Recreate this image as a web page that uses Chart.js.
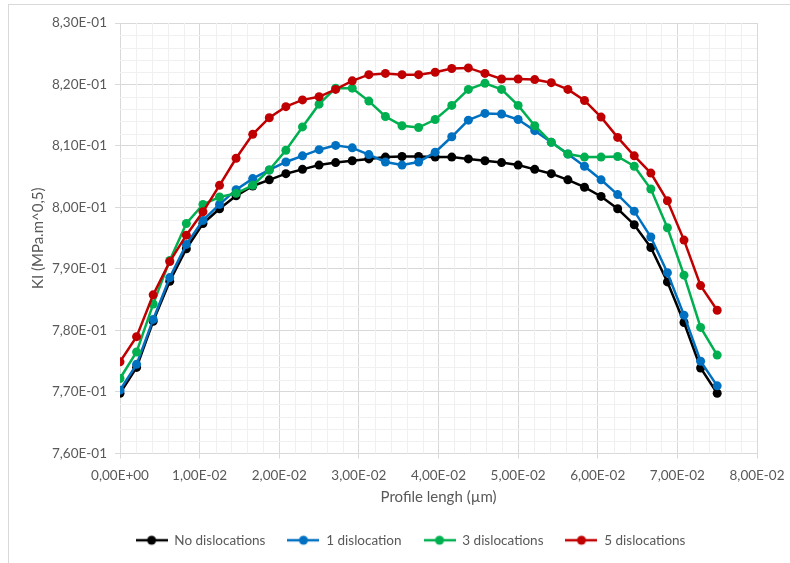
<!DOCTYPE html>
<html>
<head>
<meta charset="utf-8">
<script src="https://cdn.jsdelivr.net/npm/chart.js@4"></script>
<style>
  html, body { margin: 0; padding: 0; background: #fff; }
  #wrap { width: 790px; height: 563px; position: relative; }
</style>
</head>
<body>
<div id="wrap"><canvas id="myChart" width="790" height="563"></canvas></div>
<script>
// profile positions (same for every series)
const profileX = [0, 0.002083, 0.004167, 0.00625, 0.008333, 0.010417, 0.0125, 0.014583, 0.016667, 0.01875,
  0.020833, 0.022917, 0.025, 0.027083, 0.029167, 0.03125, 0.033333, 0.035417, 0.0375, 0.039583,
  0.041667, 0.04375, 0.045833, 0.047917, 0.05, 0.052083, 0.054167, 0.05625, 0.058333, 0.060417,
  0.0625, 0.064583, 0.066667, 0.06875, 0.070833, 0.072917, 0.075];

const seriesNames = ["No dislocations", "1 dislocation", "3 dislocations", "5 dislocations"];
const seriesColors = ["#000000", "#0070C0", "#00B050", "#C00000"];

const noDisl = [0.7698, 0.7740, 0.7815, 0.7880, 0.7933, 0.7974, 0.7998, 0.8019, 0.8035, 0.8045,
  0.8055, 0.8062, 0.8069, 0.8073, 0.8076, 0.8079, 0.8082, 0.8083, 0.8083, 0.8082,
  0.8082, 0.8079, 0.8076, 0.8073, 0.8069, 0.8062, 0.8055, 0.8045, 0.8033, 0.8018,
  0.7998, 0.7972, 0.7935, 0.7879, 0.7813, 0.7739, 0.7698];
const oneDisl = [0.7703, 0.7745, 0.7818, 0.7886, 0.7940, 0.7979, 0.8005, 0.8029, 0.8047, 0.8061,
  0.8074, 0.8084, 0.8094, 0.8101, 0.8097, 0.8086, 0.8074, 0.8069, 0.8074, 0.8090,
  0.8115, 0.8142, 0.8153, 0.8152, 0.8143, 0.8125, 0.8106, 0.8087, 0.8067, 0.8045,
  0.8021, 0.7994, 0.7952, 0.7894, 0.7825, 0.7750, 0.7710];
const threeDisl = [0.7722, 0.7765, 0.7843, 0.7914, 0.7974, 0.8005, 0.8017, 0.8023, 0.8036, 0.8061,
  0.8093, 0.8131, 0.8168, 0.8194, 0.8194, 0.8173, 0.8148, 0.8133, 0.8130, 0.8143,
  0.8166, 0.8192, 0.8202, 0.8192, 0.8166, 0.8133, 0.8106, 0.8087, 0.8082, 0.8082,
  0.8083, 0.8067, 0.8030, 0.7967, 0.7890, 0.7805, 0.7760];
const fiveDisl = [0.7749, 0.7790, 0.7858, 0.7912, 0.7955, 0.7993, 0.8036, 0.8080, 0.8119, 0.8146,
  0.8164, 0.8175, 0.8180, 0.8192, 0.8206, 0.8216, 0.8218, 0.8216, 0.8216, 0.8220,
  0.8226, 0.8227, 0.8218, 0.8209, 0.8209, 0.8208, 0.8203, 0.8192, 0.8174, 0.8147,
  0.8114, 0.8084, 0.8056, 0.8011, 0.7947, 0.7873, 0.7833];

const allSeries = [noDisl, oneDisl, threeDisl, fiveDisl];

// "8,30E-01" style labels
function sciLabel(v) {
  const parts = Number(v).toExponential(2).split("e");
  let exp = parseInt(parts[1], 10);
  const sign = exp < 0 ? "-" : "+";
  exp = Math.abs(exp);
  return parts[0].replace(".", ",") + "E" + sign + (exp < 10 ? "0" + exp : exp);
}

// legend marker: short line with a dot in the middle
function legendMarker(color) {
  const c = document.createElement("canvas");
  c.width = 32; c.height = 12;
  const g = c.getContext("2d");
  g.strokeStyle = color; g.lineWidth = 2.5;
  g.beginPath(); g.moveTo(0, 6); g.lineTo(32, 6); g.stroke();
  g.fillStyle = color;
  g.beginPath(); g.arc(16, 6, 4.5, 0, Math.PI * 2); g.fill();
  return c;
}

const gridMajor = "#d9d9d9";
const gridMinor = "#f0f0f0";
const textColor = "#595959";
const fontFam = "Lato, 'Open Sans', sans-serif";

// minor grid + chart frame
const minorGrid = {
  id: "minorGrid",
  afterLayout(chart) {
    // Excel centres the legend a bit right of the canvas centre
    chart.legend.left += 28;
    chart.legend.right += 28;
  },
  beforeDraw(chart) {
    const ctx = chart.ctx;
    ctx.save();
    ctx.strokeStyle = gridMajor;
    ctx.lineWidth = 1;
    ctx.strokeRect(8.5, 4.5, 900, 700);
    ctx.restore();
  },
  beforeDatasetsDraw(chart) {
    const { ctx, chartArea: a, scales: { x, y } } = chart;
    ctx.save();
    ctx.strokeStyle = gridMinor;
    ctx.lineWidth = 1;
    for (let k = 0; k <= 40; k++) {
      if (k % 5 === 0) continue;
      const px = Math.round(x.getPixelForValue(k * 0.002)) + 0.5;
      ctx.beginPath(); ctx.moveTo(px, a.top); ctx.lineTo(px, a.bottom); ctx.stroke();
    }
    for (let k = 0; k <= 35; k++) {
      if (k % 5 === 0) continue;
      const py = Math.round(y.getPixelForValue(0.76 + k * 0.002)) + 0.5;
      ctx.beginPath(); ctx.moveTo(a.left, py); ctx.lineTo(a.right, py); ctx.stroke();
    }
    ctx.restore();
  }
};

const datasets = allSeries.map((vals, i) => ({
  label: seriesNames[i],
  data: vals.map((v, j) => ({ x: profileX[j], y: v })),
  borderColor: seriesColors[i],
  backgroundColor: seriesColors[i],
  borderWidth: 2.5,
  pointRadius: 4.5,
  pointHoverRadius: 4.5,
  pointBorderWidth: 0,
  tension: 0,
  order: 4 - i
}));

const ctx = document.getElementById("myChart").getContext("2d");
new Chart(ctx, {
  type: "line",
  data: { datasets: datasets },
  plugins: [minorGrid],
  options: {
    responsive: false,
    animation: false,
    layout: { padding: { left: 8, top: 23, right: 33, bottom: 6 } },
    plugins: {
      tooltip: { enabled: false },
      legend: {
        position: "bottom",
        labels: {
          usePointStyle: true,
          pointStyleWidth: 32,
          padding: 22,
          color: textColor,
          font: { family: fontFam, size: 13.5 },
          sort: (a, b) => a.datasetIndex - b.datasetIndex,
          generateLabels(chart) {
            const items = Chart.defaults.plugins.legend.labels.generateLabels(chart);
            items.forEach(it => { it.pointStyle = legendMarker(seriesColors[it.datasetIndex]); });
            return items;
          }
        }
      }
    },
    scales: {
      x: {
        type: "linear",
        min: 0,
        max: 0.08,
        afterFit(s) { s.height = 58; s.paddingRight = 20; s.paddingLeft = 0; },
        ticks: {
          stepSize: 0.01,
          padding: 9,
          color: textColor,
          font: { family: fontFam, size: 13.5 },
          maxRotation: 0,
          callback: v => sciLabel(v)
        },
        grid: { color: gridMajor, tickLength: 5, tickColor: gridMajor },
        border: { color: gridMajor },
        title: {
          display: true,
          text: "Profile lengh (µm)",
          color: textColor,
          font: { family: fontFam, size: 15 },
          padding: { top: 4, bottom: 5 }
        }
      },
      y: {
        min: 0.76,
        max: 0.83,
        afterFit(s) { s.width = 112; },
        ticks: {
          stepSize: 0.01,
          padding: 8,
          color: textColor,
          font: { family: fontFam, size: 13.5 },
          callback: v => sciLabel(v)
        },
        grid: { color: gridMajor, tickLength: 5, tickColor: gridMajor },
        border: { color: gridMajor },
        title: {
          display: true,
          text: "KI (MPa.m^0,5)",
          color: textColor,
          font: { family: fontFam, size: 15 },
          padding: { top: 21, bottom: 0 }
        }
      }
    }
  }
});
</script>
</body>
</html>
